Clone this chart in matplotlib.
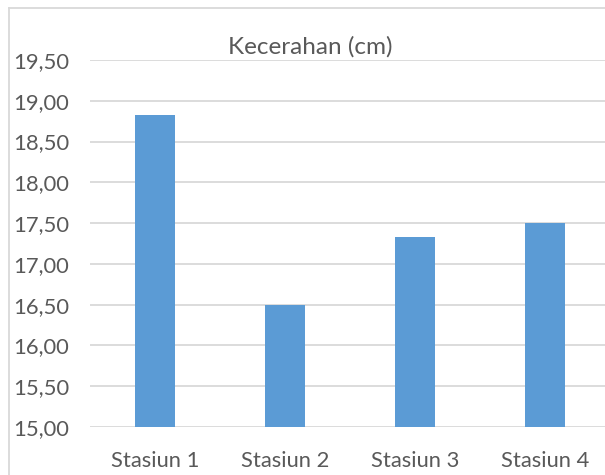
import matplotlib.pyplot as plt
from matplotlib.lines import Line2D

# data
stations = ['Stasiun 1', 'Stasiun 2', 'Stasiun 3', 'Stasiun 4']
kecerahan = [18.83, 16.50, 17.33, 17.50]
yticks = [15.0, 15.5, 16.0, 16.5, 17.0, 17.5, 18.0, 18.5, 19.0, 19.5]

plt.rcParams['font.family'] = ['Lato', 'DejaVu Sans']
W, H = 605, 475
fig = plt.figure(figsize=(W / 100, H / 100), dpi=100)

# axes box: x 90..610 px, y 60..427 px (plot extends past right edge)
ax = fig.add_axes([90 / W, (H - 427) / H, 520 / W, 367 / H])
x = range(len(stations))
ax.bar(x, kecerahan, width=0.315, color='#5b9bd5', zorder=3)
ax.set_xlim(-0.5, 3.5)
ax.set_ylim(15, 19.5)
ax.set_yticks(yticks)
ax.set_yticklabels([f'{v:.2f}'.replace('.', ',') for v in yticks])
ax.set_xticks(list(x))
ax.set_xticklabels(stations)
ax.grid(axis='y', color='#d9d9d9', linewidth=1.3, zorder=0)
for s in ax.spines.values():
    s.set_visible(False)
ax.tick_params(length=0, labelsize=15.8, colors='#595959')
ax.tick_params(axis='y', pad=15)
ax.tick_params(axis='x', pad=17)

fig.text(310 / W, 1 - 47 / H, 'Kecerahan (cm)', ha='center', va='center',
         fontsize=17.5, color='#595959')

# chart border (left and top)
fig.add_artist(Line2D([9 / W, 9 / W], [0, 1 - 8 / H], color='#d9d9d9', lw=1.3,
                      transform=fig.transFigure))
fig.add_artist(Line2D([9 / W, 1], [1 - 8 / H, 1 - 8 / H], color='#d9d9d9', lw=1.3,
                      transform=fig.transFigure))

fig.savefig('out.png', dpi=100)
